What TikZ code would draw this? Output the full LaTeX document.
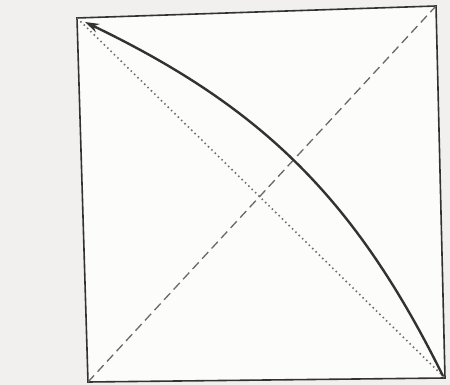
\documentclass[tikz,border=0pt]{standalone}
\usetikzlibrary{arrows.meta}
\definecolor{paper}{RGB}{242,240,238}
\definecolor{inner}{RGB}{252,252,251}
\definecolor{ink}{RGB}{50,50,50}
\definecolor{dashink}{RGB}{105,105,105}
\definecolor{dotink}{RGB}{110,110,110}
\tikzset{
  frame/.style={draw=ink, line width=1.6pt, fill=inner},
  dashdiag/.style={draw=dashink, line width=1.3pt, dash pattern=on 9pt off 5pt},
  dotdiag/.style={draw=dotink, line width=1.6pt, dash pattern=on 1.5pt off 3.2pt},
  arcarrow/.style={draw=ink, line width=2.4pt, -{Stealth[length=14pt,width=9pt]}}
}
\begin{document}
\begin{tikzpicture}[x=1pt,y=-1pt]
  \fill[paper] (0,0) rectangle (450,385);
  \useasboundingbox (0,0) rectangle (450,385);
  \coordinate (tl) at (77,18);
  \coordinate (tr) at (436,6);
  \coordinate (br) at (445,378);
  \coordinate (bl) at (88,382);
  \path[frame] (tl) -- (tr) -- (br) -- (bl) -- cycle;
  \draw[dashdiag] (bl) -- (tr);
  \draw[dotdiag] (tl) -- (br);
  \coordinate (s) at (443,376);
  \coordinate (e) at (85,22);
  \draw[arcarrow] (s) to[bend right=19] (e);
\end{tikzpicture}
\end{document}
